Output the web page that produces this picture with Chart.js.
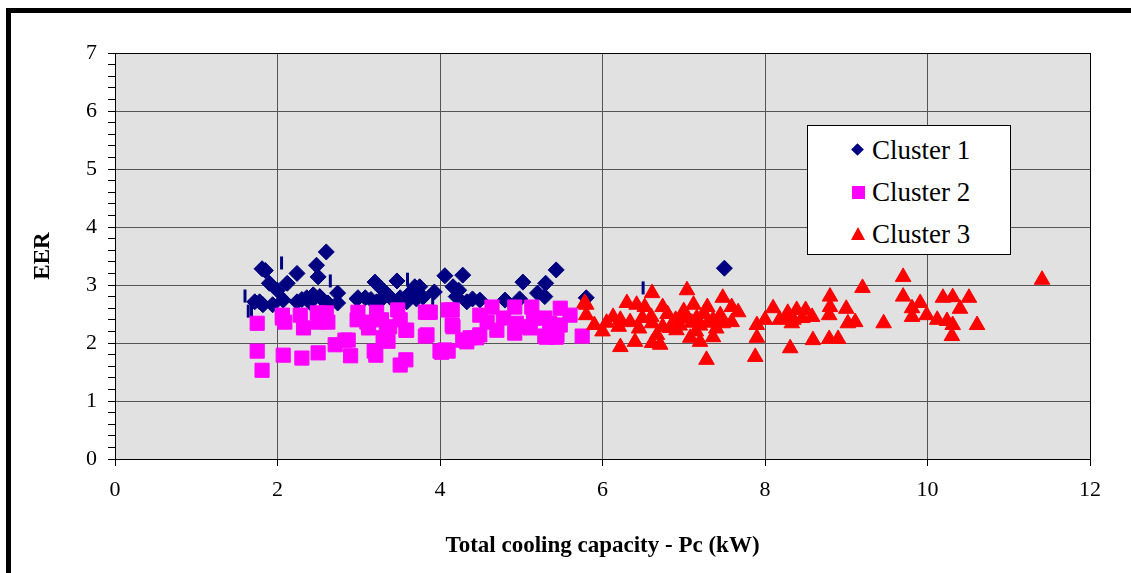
<!DOCTYPE html>
<html lang="en">
<head>
    <meta charset="UTF-8">
    <title>EER vs Total cooling capacity</title>
    <style>
        body {
            margin: 0;
            background: #fff;
            font-family: "Liberation Serif", "Times New Roman", serif;
        }
        #page {
            position: relative;
            width: 1131px;
            height: 573px;
            overflow: hidden;
        }
        #frame {
            position: absolute;
            left: 6px;
            top: 8px;
            width: 1200px;
            height: 700px;
            border-top: 5px solid #000;
            border-left: 5px solid #000;
        }
        #chart {
            position: absolute;
            left: 0;
            top: 0;
        }
        .legend {
            position: absolute;
            left: 807px;
            top: 125px;
            width: 202px;
            height: 128px;
            background: #fff;
            border: 1px solid #000;
        }
        .legend .row {
            position: absolute;
            left: 0;
            height: 42px;
            line-height: 42px;
            font-size: 27px;
            color: #000;
        }
        .legend .text {
            position: absolute;
            left: 64px;
            white-space: nowrap;
        }
        .mark {
            position: absolute;
        }
    </style>
</head>
<body>
    <div id="page">
        <div id="frame"></div>
        <canvas id="chart" width="1131" height="573"></canvas>
        <div class="legend" id="legend"></div>
    </div>

    <script src="https://cdn.jsdelivr.net/npm/chart.js"></script>
    <script>
        // data: [Pc (kW), EER]
        const cluster1Points = [
            [1.81, 3.28], [1.85, 3.25], [2.6, 3.57], [2.48, 3.34], [2.5, 3.14], [2.24, 3.2],
            [1.9, 3.03], [2.12, 3.03], [2.0, 2.91], [2.74, 2.86], [2.74, 2.69], [3.2, 3.05],
            [3.47, 3.07], [3.69, 2.97], [3.71, 2.76], [2.99, 2.78], [1.78, 2.71], [4.06, 3.16],
            [4.28, 3.17], [5.02, 3.05], [5.43, 3.26], [5.3, 3.03], [4.23, 2.91], [3.93, 2.88],
            [7.5, 3.29], [5.8, 2.78], [4.49, 2.74], [4.8, 2.74], [3.08, 2.78], [4.2, 2.8],
            [4.98, 2.76], [5.2, 2.86], [5.29, 2.8], [3.79, 2.79], [4.33, 2.71], [2.24, 2.71],
            [2.36, 2.78], [2.44, 2.83], [2.52, 2.8], [2.56, 2.74], [2.62, 2.69], [1.72, 2.71],
            [1.82, 2.66], [1.94, 2.66], [2.07, 2.74], [2.98, 2.76], [3.22, 2.71], [3.3, 2.78],
            [3.42, 2.74], [3.51, 2.78], [3.59, 2.71], [3.3, 2.91], [3.63, 2.86], [3.75, 2.97],
            [4.16, 2.97], [2.3, 2.75], [2.4, 2.7], [3.15, 2.75], [3.38, 2.8], [4.4, 2.76]
        ];
        // small vertical dashes drawn in the cluster 1 colour
        const cluster1Dashes = [
            [1.6, 2.81], [1.64, 2.55], [1.68, 2.55], [2.05, 3.38], [2.65, 3.07],
            [3.6, 3.1], [3.91, 2.74], [6.5, 2.95]
        ];
        const cluster2Points = [
            [1.75, 2.34], [1.75, 1.86], [1.81, 1.53], [2.07, 1.79], [2.06, 2.43], [2.09, 2.36],
            [2.3, 1.74], [2.32, 2.26], [2.5, 1.83], [2.71, 1.97], [2.87, 2.05], [2.9, 1.78],
            [3.19, 1.86], [3.21, 1.79], [3.34, 2.22], [3.36, 2.03], [3.51, 1.62], [3.58, 1.71],
            [3.58, 2.22], [3.82, 2.12], [4.0, 1.86], [4.1, 1.86], [4.31, 2.05], [4.37, 2.09],
            [4.49, 2.14], [4.7, 2.22], [4.92, 2.17], [5.11, 2.26], [5.29, 2.12], [5.43, 2.1],
            [5.48, 2.31], [5.75, 2.12], [5.6, 2.48], [5.48, 2.6], [2.06, 2.48], [2.28, 2.48],
            [2.49, 2.52], [2.5, 2.36], [2.6, 2.52], [2.62, 2.36], [2.99, 2.53], [2.98, 2.4],
            [3.1, 2.36], [3.12, 2.26], [3.22, 2.53], [3.28, 2.4], [3.38, 2.28], [3.48, 2.57],
            [3.51, 2.4], [3.59, 2.22], [3.82, 2.53], [3.88, 2.53], [4.15, 2.57], [4.15, 2.31],
            [4.28, 2.05], [2.83, 2.05], [3.3, 2.09], [3.85, 2.53], [4.1, 2.57], [4.16, 2.28],
            [3.84, 2.14], [4.02, 1.84], [4.33, 2.02], [4.45, 2.09], [4.49, 2.48], [4.64, 2.62],
            [4.58, 2.36], [4.92, 2.62], [4.94, 2.34], [5.13, 2.62], [5.15, 2.43], [5.29, 2.43],
            [5.31, 2.1], [5.44, 2.14], [5.35, 2.34], [5.02, 2.28], [4.78, 2.43], [4.06, 1.88]
        ];
        const cluster3Points = [
            [5.78, 2.69], [5.8, 2.48], [5.9, 2.31], [5.8, 2.66], [6.3, 2.69], [6.61, 2.86],
            [6.42, 2.66], [6.52, 2.62], [6.74, 2.62], [6.13, 2.45], [6.22, 2.4], [6.34, 2.36],
            [6.49, 2.43], [6.61, 2.34], [6.74, 2.28], [6.83, 2.26], [7.04, 2.91], [7.12, 2.66],
            [7.29, 2.62], [7.48, 2.78], [7.59, 2.62], [7.67, 2.53], [6.99, 2.48], [7.16, 2.43],
            [7.36, 2.4], [7.48, 2.34], [7.59, 2.36], [6.91, 2.22], [7.08, 2.09], [7.2, 2.02],
            [7.36, 2.1], [6.22, 1.93], [6.4, 2.02], [6.61, 2.0], [6.71, 1.97], [7.28, 1.71],
            [6.67, 2.14], [7.88, 1.76], [7.9, 2.09], [7.9, 2.31], [8.1, 2.6], [8.0, 2.4],
            [8.28, 2.52], [8.31, 1.91], [8.35, 2.4], [9.7, 3.14], [11.41, 3.09], [9.2, 2.95],
            [8.8, 2.8], [8.8, 2.62], [9.0, 2.59], [9.7, 2.8], [9.91, 2.69], [9.81, 2.6],
            [9.81, 2.45], [10.19, 2.78], [10.31, 2.79], [10.51, 2.78], [10.4, 2.59], [9.99, 2.48],
            [10.12, 2.4], [10.24, 2.38], [10.31, 2.31], [10.3, 2.12], [10.61, 2.31], [9.46, 2.34],
            [9.02, 2.34], [9.11, 2.36], [8.79, 2.48], [8.59, 2.05], [8.79, 2.07], [8.9, 2.07],
            [8.5, 2.57], [8.39, 2.57], [8.27, 2.45], [8.18, 2.4], [8.33, 2.34], [8.46, 2.43],
            [8.58, 2.45], [6.05, 2.35], [6.2, 2.28], [6.45, 2.25], [6.9, 2.4], [7.0, 2.55],
            [7.2, 2.3], [7.4, 2.25], [7.1, 2.35], [6.6, 2.45], [6.0, 2.2], [7.25, 2.5],
            [6.95, 2.3], [7.05, 2.42], [7.3, 2.35], [7.45, 2.48], [6.8, 2.5], [7.15, 2.2]
        ];

        const seriesNames = ['Cluster 1', 'Cluster 2', 'Cluster 3'];
        const seriesColors = ['#000080', '#ff00ff', '#ff0000'];
        const xTicks = [0, 2, 4, 6, 8, 10, 12];
        const yTicks = [0, 1, 2, 3, 4, 5, 6, 7];

        function toXY(list) {
            return list.map(p => ({ x: p[0], y: p[1] }));
        }

        function isWhole(v) {
            return Math.abs(v - Math.round(v)) < 1e-6;
        }

        // grey plot area
        const plotBackground = {
            id: 'plotBackground',
            beforeDraw(chart) {
                const a = chart.chartArea;
                const ctx = chart.ctx;
                ctx.save();
                ctx.fillStyle = '#e1e1e1';
                ctx.fillRect(a.left, a.top, a.right - a.left, a.bottom - a.top);
                ctx.restore();
            }
        };

        const ctx = document.getElementById('chart').getContext('2d');
        const chart = new Chart(ctx, {
            type: 'scatter',
            data: {
                datasets: [
                    {
                        label: seriesNames[0],
                        data: toXY(cluster1Points),
                        pointStyle: 'rectRot',
                        pointRadius: 8,
                        pointHoverRadius: 8,
                        backgroundColor: seriesColors[0],
                        borderColor: seriesColors[0],
                        borderWidth: 1,
                        order: 3
                    },
                    {
                        label: '',
                        data: toXY(cluster1Dashes),
                        pointStyle: 'line',
                        rotation: 90,
                        pointRadius: 6.5,
                        pointHoverRadius: 6.5,
                        backgroundColor: seriesColors[0],
                        borderColor: seriesColors[0],
                        borderWidth: 3,
                        order: 4
                    },
                    {
                        label: seriesNames[1],
                        data: toXY(cluster2Points),
                        pointStyle: 'rect',
                        pointRadius: 10,
                        pointHoverRadius: 10,
                        backgroundColor: seriesColors[1],
                        borderColor: seriesColors[1],
                        borderWidth: 1,
                        order: 2
                    },
                    {
                        label: seriesNames[2],
                        data: toXY(cluster3Points),
                        pointStyle: 'triangle',
                        pointRadius: 9,
                        pointHoverRadius: 9,
                        backgroundColor: seriesColors[2],
                        borderColor: seriesColors[2],
                        borderWidth: 1,
                        order: 1
                    }
                ]
            },
            options: {
                responsive: false,
                animation: false,
                layout: {
                    padding: { left: 0, right: 41, top: 53, bottom: 0 }
                },
                plugins: {
                    legend: { display: false },
                    tooltip: { enabled: false }
                },
                scales: {
                    x: {
                        type: 'linear',
                        min: xTicks[0],
                        max: xTicks[xTicks.length - 1],
                        afterBuildTicks: function(scale) {
                            scale.ticks = xTicks.map(v => ({ value: v }));
                        },
                        afterFit: function(scale) {
                            scale.height = 114;
                        },
                        ticks: {
                            color: '#000',
                            padding: 11,
                            maxRotation: 0,
                            font: { family: 'Liberation Serif', size: 22 }
                        },
                        grid: {
                            color: function(c) {
                                const v = c.tick ? c.tick.value : 0;
                                return (v === 0 || v === 12) ? '#000' : '#555';
                            },
                            tickColor: '#000',
                            tickLength: 7,
                            lineWidth: 1
                        },
                        border: { color: '#000', width: 1 },
                        title: {
                            display: true,
                            text: 'Total cooling capacity - Pc (kW)',
                            color: '#000',
                            padding: { top: 0, bottom: 13 },
                            font: { family: 'Liberation Serif', size: 23, weight: 'bold' }
                        }
                    },
                    y: {
                        type: 'linear',
                        min: yTicks[0],
                        max: yTicks[yTicks.length - 1],
                        afterBuildTicks: function(scale) {
                            // major ticks every 1, minor ticks every 0.2
                            const list = [];
                            for (let i = 0; i < yTicks.length - 1; i++) {
                                for (let k = 0; k < 5; k++) {
                                    list.push({ value: yTicks[i] + k * 0.2 });
                                }
                            }
                            list.push({ value: yTicks[yTicks.length - 1] });
                            scale.ticks = list;
                        },
                        afterFit: function(scale) {
                            scale.width = 115;
                        },
                        ticks: {
                            color: '#000',
                            padding: 11,
                            autoSkip: false,
                            font: { family: 'Liberation Serif', size: 22 },
                            callback: function(v) {
                                return isWhole(v) ? String(Math.round(v)) : '';
                            }
                        },
                        grid: {
                            color: function(c) {
                                const v = c.tick ? c.tick.value : 0;
                                if (!isWhole(v)) return 'rgba(0,0,0,0)';
                                return (Math.round(v) === 7 || Math.round(v) === 0) ? '#000' : '#555';
                            },
                            tickColor: '#000',
                            tickLength: 7,
                            lineWidth: 1
                        },
                        border: { color: '#000', width: 1 },
                        title: {
                            display: true,
                            text: 'EER',
                            color: '#000',
                            padding: { top: 29, bottom: 0 },
                            font: { family: 'Liberation Serif', size: 23, weight: 'bold' }
                        }
                    }
                }
            },
            plugins: [plotBackground]
        });

        // legend box inside the plot, built from the chart's datasets
        function buildLegend() {
            const box = document.getElementById('legend');
            const shapes = ['diamond', 'square', 'triangle'];
            let row = 0;
            chart.data.datasets.forEach(ds => {
                if (!ds.label) return;
                const div = document.createElement('div');
                div.className = 'row';
                div.style.top = (3 + row * 42) + 'px';
                div.style.width = '202px';

                const mark = document.createElement('span');
                mark.className = 'mark';
                const shape = shapes[row];
                if (shape === 'diamond') {
                    mark.style.width = '9px';
                    mark.style.height = '9px';
                    mark.style.left = '45px';
                    mark.style.top = '16px';
                    mark.style.background = ds.backgroundColor;
                    mark.style.transform = 'rotate(45deg)';
                } else if (shape === 'square') {
                    mark.style.width = '13px';
                    mark.style.height = '13px';
                    mark.style.left = '44px';
                    mark.style.top = '15px';
                    mark.style.background = ds.backgroundColor;
                } else {
                    mark.style.width = '0';
                    mark.style.height = '0';
                    mark.style.left = '43px';
                    mark.style.top = '14px';
                    mark.style.borderLeft = '7px solid transparent';
                    mark.style.borderRight = '7px solid transparent';
                    mark.style.borderBottom = '13px solid ' + ds.backgroundColor;
                }
                div.appendChild(mark);

                const text = document.createElement('span');
                text.className = 'text';
                text.innerText = ds.label;
                div.appendChild(text);

                box.appendChild(div);
                row++;
            });
        }

        buildLegend();
    </script>
</body>
</html>
